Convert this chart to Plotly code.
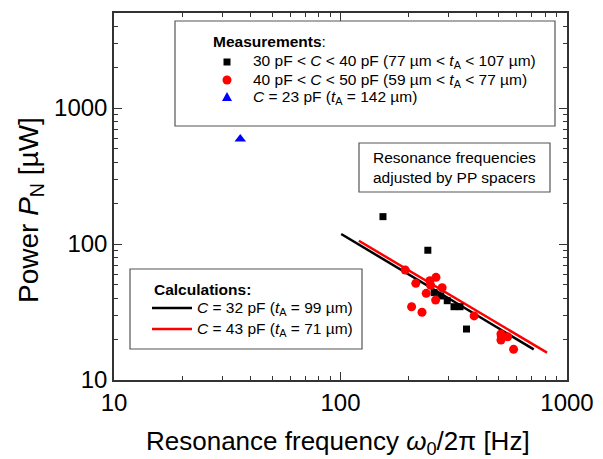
import plotly.graph_objects as go

# ---- data ----
sq_x = [154, 243, 259, 277, 296, 317, 337, 360]
sq_y = [159, 90, 43.9, 41.5, 38.3, 34.6, 34.6, 23.7]

ci_x = [193, 215, 206, 229, 239, 248, 250, 264, 263, 281, 389, 511, 511, 513, 547, 581]
ci_y = [64.4, 51.4, 34.6, 31.5, 43.4, 53.7, 49.7, 56.9, 38.7, 47.7, 29.6, 21.8, 19.7, 20.9, 20.8, 16.8]

tri_x = [36.1]
tri_y = [592]

calc32_x = [100.7, 713]
calc32_y = [118.6, 16.8]
calc43_x = [120.5, 816]
calc43_y = [105.7, 15.9]

x_ticks = [10, 100, 1000]
y_ticks = [10, 100, 1000]

FONT = "Liberation Sans, Arial, sans-serif"

fig = go.Figure()
fig.add_trace(go.Scatter(x=calc32_x, y=calc32_y, mode="lines", line=dict(color="black", width=2.5)))
fig.add_trace(go.Scatter(x=calc43_x, y=calc43_y, mode="lines", line=dict(color="red", width=2.5)))
fig.add_trace(go.Scatter(x=sq_x, y=sq_y, mode="markers",
                         marker=dict(symbol="square", size=7, color="black")))
fig.add_trace(go.Scatter(x=ci_x, y=ci_y, mode="markers",
                         marker=dict(symbol="circle", size=9, color="red")))
fig.add_trace(go.Scatter(x=tri_x, y=tri_y, mode="markers",
                         marker=dict(symbol="triangle-up", size=10, color="blue")))

# plot area in screen pixels (page body has an 8px margin)
OFF = 8
L, R, T, B = 114, 567, 13, 380
W, H = 603, 459
def px(x):
    return (x - L) / (R - L)
def py(y):
    return (B - y) / (B - T)

shapes = []
annos = []
box_line = dict(color="#555", width=1.2)
# Measurements box
shapes.append(dict(type="rect", xref="paper", yref="paper", x0=px(175), x1=px(555), y0=py(126), y1=py(21), line=box_line))
# Annotation box
shapes.append(dict(type="rect", xref="paper", yref="paper", x0=px(359), x1=px(550), y0=py(192), y1=py(143), line=box_line))
# Calculations box
shapes.append(dict(type="rect", xref="paper", yref="paper", x0=px(130), x1=px(362), y0=py(349), y1=py(269), line=box_line, fillcolor="white", layer="below"))

def txt(x, y, s, size=15.5, xanchor="left", textangle=0):
    annos.append(dict(xref="paper", yref="paper", x=px(x), y=py(y), text=s, showarrow=False,
                      xanchor=xanchor, yanchor="middle", textangle=textangle,
                      font=dict(family=FONT, size=size, color="black")))

txt(211, 42, "<b>Measurements</b>:")
txt(251, 62, "30 pF &lt; <i>C</i> &lt; 40 pF (77 µm &lt; <i>t</i><sub>A</sub> &lt; 107 µm)")
txt(251, 80, "40 pF &lt; <i>C</i> &lt; 50 pF (59 µm &lt; <i>t</i><sub>A</sub> &lt; 77 µm)")
txt(251, 98, "<i>C</i> = 23 pF (<i>t</i><sub>A</sub> = 142 µm)")

# legend markers (pixel-sized shapes)
shapes.append(dict(type="rect", xref="paper", yref="paper", xsizemode="pixel", ysizemode="pixel",
                   xanchor=px(227), yanchor=py(62), x0=-3.5, x1=3.5, y0=-3.5, y1=3.5,
                   fillcolor="black", line=dict(width=0)))
shapes.append(dict(type="circle", xref="paper", yref="paper", xsizemode="pixel", ysizemode="pixel",
                   xanchor=px(227), yanchor=py(80), x0=-4.5, x1=4.5, y0=-4.5, y1=4.5,
                   fillcolor="red", line=dict(width=0)))
shapes.append(dict(type="path", xref="paper", yref="paper", xsizemode="pixel", ysizemode="pixel",
                   xanchor=px(227), yanchor=py(97), path="M -5 -4 L 5 -4 L 0 5 Z",
                   fillcolor="blue", line=dict(width=0)))

txt(454.5, 158, "Resonance frequencies", xanchor="center")
txt(454.5, 177, "adjusted by PP spacers", xanchor="center")

txt(152, 289, "<b>Calculations:</b>")
shapes.append(dict(type="line", xref="paper", yref="paper", x0=px(152), x1=px(192), y0=py(308), y1=py(308),
                   line=dict(color="black", width=2.5)))
shapes.append(dict(type="line", xref="paper", yref="paper", x0=px(152), x1=px(192), y0=py(329), y1=py(329),
                   line=dict(color="red", width=2.5)))
txt(195, 308, "<i>C</i> = 32 pF (<i>t</i><sub>A</sub> = 99 µm)")
txt(195, 329, "<i>C</i> = 43 pF (<i>t</i><sub>A</sub> = 71 µm)")

# axis titles
txt(338, 442, "Resonance frequency <i>ω</i><sub>0</sub>/2π [Hz]", size=26, xanchor="center")
txt(30, 210, "Power <i>P</i><sub>N</sub> [µW]", size=28, xanchor="center", textangle=-90)

axis_common = dict(type="log", showgrid=False, zeroline=False, showline=True, linecolor="#333", linewidth=1.5,
                   mirror="allticks", ticks="inside", ticklen=8, tickwidth=1.2, tickcolor="#333",
                   automargin=False,
                   tickfont=dict(family=FONT, size=24, color="black"),
                   minor=dict(ticks="inside", ticklen=4, tickwidth=1, tickcolor="#333", dtick="D1", showgrid=False))

fig.update_layout(
    width=W - OFF, height=H - OFF,
    margin=dict(l=L - OFF, r=W - R, t=T - OFF, b=H - B),
    paper_bgcolor="white", plot_bgcolor="white",
    showlegend=False,
    shapes=shapes, annotations=annos,
    xaxis=dict(axis_common, range=[1, 3], tickvals=x_ticks, ticktext=[str(v) for v in x_ticks]),
    yaxis=dict(axis_common, range=[1, 3.699], tickvals=y_ticks, ticktext=[str(v) for v in y_ticks]),
)

fig.write_html("out.html")
